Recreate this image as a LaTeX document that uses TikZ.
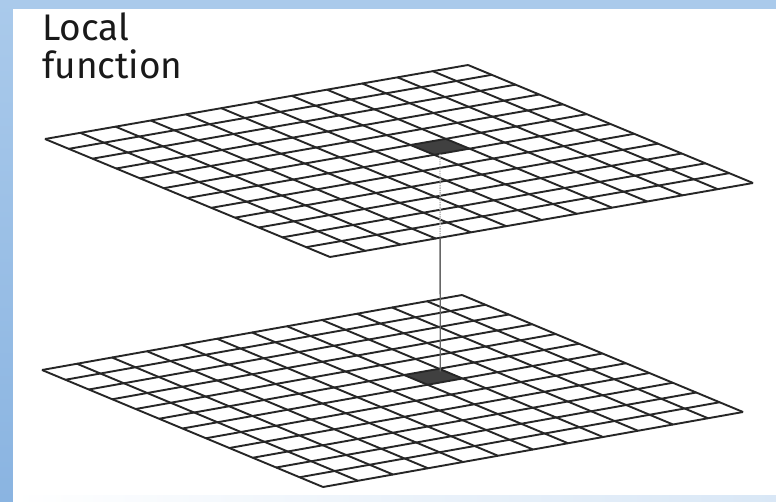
\documentclass[tikz,border=0pt]{standalone}
\usepackage{fontspec}
\setmainfont{Fira Sans}
\usetikzlibrary{calc}

\definecolor{framesky}{RGB}{170,202,235}
\definecolor{framedeep}{RGB}{138,180,225}

\begin{document}
\begin{tikzpicture}[
  x=1pt, y=-1pt,
  %% Styles
  gridline/.style = {line width=1.9pt, black!85, line join=round},
  hotcell/.style  = {fill=black!75},
  hidden/.style   = {line width=1.4pt, gray!55, densely dotted},
  probe/.style    = {line width=1.4pt, black!60},
  lbl/.style      = {font=\fontsize{37}{38}\selectfont, align=left,
                     inner sep=0pt, text=black!90},
]

%% ── Frame ──────────────────────────────────────────────────────
\useasboundingbox (0,0) rectangle (776,501);
\fill[framesky] (0,0) rectangle (776,501);
\shade[top color=framesky, bottom color=framedeep] (0,0) rectangle (13,501);
\fill[white] (13,9) rectangle (776,495);
\shade[left color=white, right color=framesky!45] (13,495) rectangle (776,501);

%% ── Title ──────────────────────────────────────────────────────
\node[lbl, anchor=north west] (title) at (42,13) {Local\\function};

%% ── Upper grid ─────────────────────────────────────────────────
\begin{scope}[shift={(45,139)}, x={(35.25pt,6.167pt)}, y={(23.75pt,-9.833pt)}]
  \fill[hotcell] (7,5) -- (8,5) -- (8,6) -- (7,6) -- cycle;
  \foreach \i in {0,...,12} {
    \draw[gridline] (\i,0) -- (\i,12);
    \draw[gridline] (0,\i) -- (12,\i);
  }
  \coordinate (upcell) at (7.5,5.5);
  \coordinate (upcellA) at (7,6);
  \coordinate (upcellB) at (8,6);
  \coordinate (upB) at (0,12);
  \coordinate (upR) at (12,12);
\end{scope}

%% ── Lower grid ─────────────────────────────────────────────────
\begin{scope}[shift={(42,370)}, x={(35pt,6.25pt)}, y={(23.42pt,-9.75pt)}]
  \fill[hotcell] (7,5) -- (8,5) -- (8,6) -- (7,6) -- cycle;
  \foreach \i in {0,...,12} {
    \draw[gridline] (\i,0) -- (\i,12);
    \draw[gridline] (0,\i) -- (12,\i);
  }
  \coordinate (lowcell) at (7.9,5.2);
\end{scope}

%% ── Link between the two cells ─────────────────────────────────
\coordinate (upfoot) at (intersection of upcell--lowcell and upcellA--upcellB);
\coordinate (upexit) at (intersection of upcell--lowcell and upB--upR);
\draw[hidden] (upfoot) -- (upexit);
\draw[probe] (upexit) -- (lowcell);

\end{tikzpicture}
\end{document}
